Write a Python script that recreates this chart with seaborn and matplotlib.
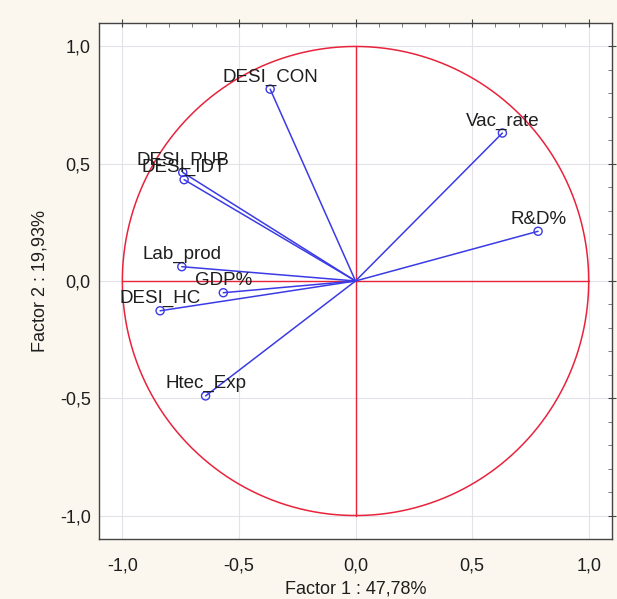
import numpy as np
import pandas as pd
import seaborn as sns
import matplotlib.pyplot as plt
from matplotlib.ticker import MultipleLocator, FuncFormatter

# factor loadings
variables = ['DESI_CON', 'Vac_rate', 'R&D%', 'DESI_PUB', 'DESI_IDT',
             'Lab_prod', 'GDP%', 'DESI_HC', 'Htec_Exp']
factor1 = [-0.366, 0.630, 0.783, -0.741, -0.735, -0.745, -0.567, -0.838, -0.643]
factor2 = [0.818, 0.631, 0.212, 0.463, 0.432, 0.061, -0.050, -0.127, -0.490]

df = pd.DataFrame({'var': variables, 'f1': factor1, 'f2': factor2})

sns.set_style('white')
plt.rcParams['font.family'] = ['Liberation Sans', 'DejaVu Sans']

blue = '#3b3be6'
red = '#e8233c'

fig = plt.figure(figsize=(6.17, 5.99), dpi=100, facecolor='#fbf7ee')
ax = fig.add_axes([0.1605, 0.1002, 0.8314, 0.8614])
ax.set_facecolor('white')

# unit circle and crosshair
t = np.linspace(0, 2 * np.pi, 400)
ax.plot(np.cos(t), np.sin(t), color=red, lw=1.1, zorder=2)
ax.plot([-1, 1], [0, 0], color=red, lw=1.0, zorder=2)
ax.plot([0, 0], [-1, 1], color=red, lw=1.0, zorder=2)

# arrows from origin
for _, r in df.iterrows():
    ax.plot([0, r.f1], [0, r.f2], color=blue, lw=1.1, zorder=3)
sns.scatterplot(data=df, x='f1', y='f2', ax=ax, marker='o', s=34,
                facecolor='none', edgecolor=blue, linewidth=1.0, zorder=4)

for _, r in df.iterrows():
    ax.annotate(r['var'], (r.f1, r.f2), xytext=(0, 2.5), textcoords='offset points',
                ha='center', va='bottom', fontsize=13.5, color='#1e1e1e', zorder=5)

ax.set_xlim(-1.1, 1.1)
ax.set_ylim(-1.1, 1.1)
comma = FuncFormatter(lambda v, p: f'{v:.1f}'.replace('.', ','))
for axis in (ax.xaxis, ax.yaxis):
    axis.set_major_locator(MultipleLocator(0.5))
    axis.set_minor_locator(MultipleLocator(0.1))
    axis.set_major_formatter(comma)
ax.tick_params(which='major', direction='inout', length=6, width=0.8,
               top=True, right=True, labelsize=13, colors='#444444',
               labelcolor='#1e1e1e')
ax.tick_params(axis='x', which='major', pad=10)
ax.tick_params(axis='y', which='major', pad=3)
ax.tick_params(which='minor', direction='in', length=3, width=0.6,
               top=True, right=True, colors='#666666')
ax.grid(True, which='major', color='#e2e2e8', lw=0.8, zorder=0)
for s in ax.spines.values():
    s.set_color('#444444')
    s.set_linewidth(1.0)

ax.set_xlabel('Factor 1 : 47,78%', fontsize=13, color='#1e1e1e', labelpad=4.5)
ax.set_ylabel('Factor 2 : 19,93%', fontsize=13, color='#1e1e1e', labelpad=8)

fig.savefig('out.png', dpi=100, facecolor=fig.get_facecolor())
